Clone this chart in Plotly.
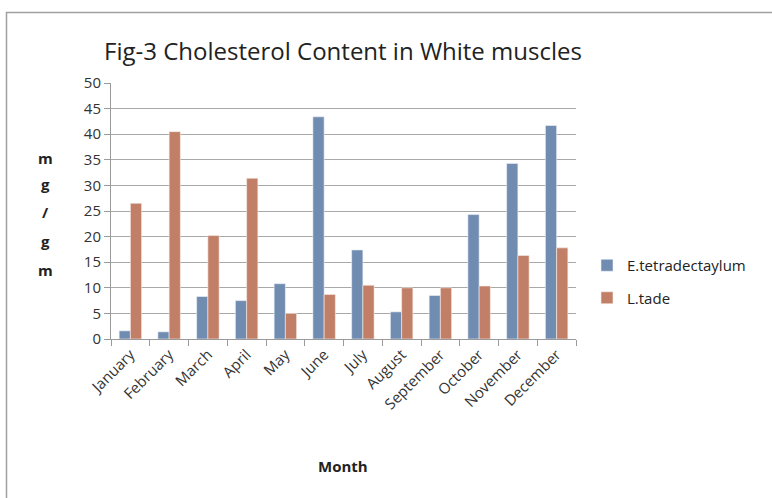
import plotly.graph_objects as go

months = ["January", "February", "March", "April", "May", "June", "July",
          "August", "September", "October", "November", "December"]
e_tetra = [1.6, 1.4, 8.3, 7.5, 10.8, 43.4, 17.4, 5.3, 8.5, 24.3, 34.3, 41.7]
l_tade = [26.5, 40.5, 20.2, 31.4, 5.0, 8.7, 10.5, 10.0, 10.0, 10.35, 16.3, 17.8]
ylabel_letters = ["m", "g", "/", "g", "m"]

W, H = 772, 498
L, R, T, B = 111, 196, 83, 159
FONT = "Open Sans"

fig = go.Figure()
fig.add_trace(go.Bar(x=months, y=e_tetra, name="E.tetradectaylum",
                     marker=dict(color="#718CB1", line=dict(color="#EEF2F8", width=0.6)),
                     legendgroup="a"))
fig.add_trace(go.Bar(x=months, y=l_tade, name="L.tade",
                     marker=dict(color="#C27F67", line=dict(color="#F8EEEA", width=0.6)),
                     legendgroup="b"))

pw = W - L - R
ph = H - T - B
def px_x(x):
    return (x - L) / pw
def px_y(y):
    return (H - B - y) / ph

fig.update_layout(
    width=W, height=H,
    margin=dict(l=L, r=R, t=T, b=B),
    paper_bgcolor="white", plot_bgcolor="white",
    barmode="group", bargap=0.42, bargroupgap=0,
    font=dict(family=FONT, size=13, color="#222222"),
    title=dict(text="Fig-3 Cholesterol Content in White muscles",
               x=px_x(343), xref="paper", xanchor="center",
               y=1 - 52 / H, yanchor="middle",
               font=dict(family=FONT, size=24, color="#222222")),
    xaxis=dict(showline=True, linecolor="#9A9A9A", linewidth=1,
               ticks="outside", tickson="boundaries", ticklen=6, tickcolor="#9A9A9A",
               tickangle=-45, tickfont=dict(size=15, color="#333333")),
    yaxis=dict(range=[0, 50], dtick=5, showgrid=True, gridcolor="#A8A8A8", gridwidth=1,
               showline=True, linecolor="#9A9A9A", linewidth=1,
               ticks="outside", ticklen=6, tickcolor="#9A9A9A",
               tickfont=dict(size=15, color="#333333"), zeroline=False),
    legend=dict(x=px_x(587), y=px_y(249), xanchor="left", yanchor="top",
                traceorder="grouped", tracegroupgap=10, itemwidth=30,
                font=dict(size=15, color="#222222"), bgcolor="rgba(0,0,0,0)"),
    showlegend=True,
)

ylabel_pos = [158, 184, 212, 241, 270]
for letter, yp in zip(ylabel_letters, ylabel_pos):
    fig.add_annotation(text="<b>%s</b>" % letter, xref="paper", yref="paper",
                       x=px_x(45), y=px_y(yp), xanchor="center", yanchor="middle",
                       showarrow=False, font=dict(size=15, color="#222222"))

fig.add_annotation(text="<b>Month</b>", xref="paper", yref="paper",
                   x=px_x(343), y=px_y(466), xanchor="center", yanchor="middle",
                   showarrow=False, font=dict(size=15, color="#222222"))

fig.add_shape(type="rect", xref="paper", yref="paper",
              x0=px_x(6.5), x1=px_x(800), y0=px_y(520), y1=px_y(12.5),
              line=dict(color="#A0A0A0", width=1.5), layer="below")

fig.write_html("out.html", config={"displayModeBar": False},
               post_script="document.body.style.margin='0px';")
